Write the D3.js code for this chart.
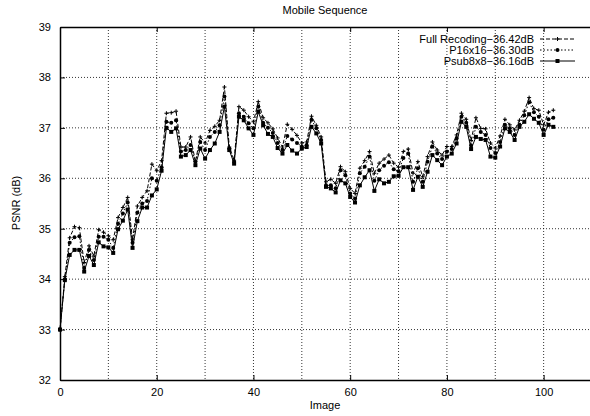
<!DOCTYPE html>
<html>
<head>
<meta charset="utf-8">
<script src="https://cdn.jsdelivr.net/npm/d3@7"></script>
<style>
  body { margin: 0; background: #fff; }
  svg { display: block; font-family: "Liberation Sans", Arial, sans-serif; }
  .grid line { stroke: #000; stroke-width: 0.8; stroke-dasharray: 1,2; }
  .tick-label { font-size: 11px; fill: #000; }
</style>
</head>
<body>
<svg id="chart"></svg>
<script>
// x values are image indices 0..102
const fullRecoding = [
  33.0, 34.05, 34.82, 35.04, 35.02, 34.33, 34.66, 34.46, 34.98, 34.93,
  34.86, 34.78, 35.22, 35.42, 35.62, 34.78, 35.45, 35.62, 35.75, 36.28,
  36.15, 36.35, 37.29, 37.3, 37.33, 36.62, 36.62, 36.82, 36.33, 36.82,
  36.7, 36.95, 37.03, 37.15, 37.81, 36.62, 36.36, 37.42, 37.35, 37.22,
  37.12, 37.52, 37.2, 37.1, 36.98, 36.8, 36.62, 37.07, 36.97, 36.85,
  36.7, 36.72, 37.23, 37.05, 36.82, 35.93, 35.98, 35.9, 36.23, 36.13,
  35.8, 35.7, 36.2, 36.35, 36.53, 36.1, 36.3, 36.38, 36.46, 36.3,
  36.22, 36.53, 36.58, 36.1, 36.33, 36.03, 36.43, 36.72, 36.56, 36.46,
  36.63, 36.63, 36.86, 37.29, 37.17, 36.75, 37.2, 36.99, 36.98, 36.7,
  36.6, 36.84, 37.17, 37.06, 36.96, 37.15, 37.33, 37.6, 37.38, 37.35,
  37.06, 37.31, 37.35
];
const p16x16 = [
  33.0, 34.0, 34.72, 34.83, 34.85, 34.22, 34.58, 34.38, 34.84, 34.84,
  34.78, 34.62, 35.1, 35.3, 35.52, 34.72, 35.32, 35.5, 35.55, 36.0,
  35.95, 36.22, 37.12, 37.1, 37.15, 36.53, 36.56, 36.66, 36.33, 36.72,
  36.56, 36.82, 36.92, 37.05, 37.62, 36.59, 36.33, 37.29, 37.22, 37.09,
  36.99, 37.42, 37.1, 37.0, 36.9, 36.7, 36.56, 36.84, 36.77, 36.7,
  36.63, 36.66, 37.16, 36.99, 36.76, 35.86, 35.86, 35.8, 36.16, 36.06,
  35.7, 35.6, 36.1, 36.23, 36.43, 35.95, 36.16, 36.25, 36.32, 36.18,
  36.14, 36.4, 36.49, 35.93, 36.2, 35.93, 36.33, 36.63, 36.49, 36.38,
  36.53, 36.58, 36.79, 37.22, 37.1, 36.65, 37.02, 36.92, 36.86, 36.6,
  36.5, 36.72, 37.06, 36.99, 36.86, 37.06, 37.25, 37.51, 37.31, 37.22,
  36.96, 37.17, 37.2
];
const psub8x8 = [
  33.0, 33.98, 34.48, 34.58, 34.58, 34.15, 34.46, 34.28, 34.73, 34.65,
  34.63, 34.52, 34.99, 35.16, 35.38, 34.62, 35.15, 35.42, 35.42, 35.66,
  35.78, 36.15, 37.0, 36.92, 36.99, 36.43, 36.46, 36.56, 36.26, 36.59,
  36.39, 36.56, 36.69, 36.92, 37.42, 36.56, 36.29, 37.22, 37.15, 36.99,
  36.86, 37.32, 37.05, 36.88, 36.82, 36.6, 36.49, 36.66, 36.55, 36.49,
  36.59, 36.62, 37.02, 36.89, 36.69, 35.83, 35.8, 35.72, 35.96, 35.9,
  35.63, 35.52, 35.86, 36.02, 36.16, 35.75, 35.98, 35.9, 35.93, 36.04,
  36.05, 36.22, 36.22, 35.77, 36.03, 35.83, 36.13, 36.46, 36.36, 36.26,
  36.43, 36.49, 36.69, 37.12, 37.02, 36.58, 36.82, 36.78, 36.76, 36.43,
  36.41, 36.63, 36.99, 36.92, 36.76, 37.02, 37.12, 37.27, 37.18, 37.1,
  36.86, 37.06, 37.02
];
const seriesNames = ["Full Recoding\u221236.42dB", "P16x16\u221236.30dB", "Psub8x8\u221236.16dB"];
const xTicks = [0, 20, 40, 60, 80, 100];
const xGrid = [10, 20, 30, 40, 50, 60, 70, 80, 90, 100];
const yTicks = [32, 33, 34, 35, 36, 37, 38, 39];

class PsnrChart {
  constructor(_config, _data) {
    this.config = {
      parentElement: _config.parentElement,
      containerWidth: _config.containerWidth || 590,
      containerHeight: _config.containerHeight || 416,
      margin: _config.margin || { top: 27, right: -2, bottom: 36, left: 60 }
    };
    this.data = _data;
    this.initVis();
  }

  initVis() {
    let vis = this;
    vis.width = vis.config.containerWidth - vis.config.margin.left - vis.config.margin.right;
    vis.height = vis.config.containerHeight - vis.config.margin.top - vis.config.margin.bottom;

    vis.xScale = d3.scaleLinear().domain([0, 110]).range([0, vis.width]);
    vis.yScale = d3.scaleLinear().domain([32, 39]).range([vis.height, 0]);

    vis.svg = d3.select(vis.config.parentElement)
      .attr("width", vis.config.containerWidth)
      .attr("height", vis.config.containerHeight);

    vis.chart = vis.svg.append("g")
      .attr("transform", `translate(${vis.config.margin.left},${vis.config.margin.top})`);

    // dotted grid
    const grid = vis.chart.append("g").attr("class", "grid");
    grid.selectAll(".vgrid").data(xGrid).join("line")
      .attr("x1", d => vis.xScale(d)).attr("x2", d => vis.xScale(d))
      .attr("y1", 0).attr("y2", vis.height);
    grid.selectAll(".hgrid").data(yTicks.slice(1, -1)).join("line")
      .attr("x1", 0).attr("x2", vis.width)
      .attr("y1", d => vis.yScale(d)).attr("y2", d => vis.yScale(d));

    // axes, ticks drawn inward like gnuplot
    vis.xAxis = d3.axisBottom(vis.xScale).tickValues(xTicks).tickSizeInner(-5).tickSizeOuter(0).tickPadding(8);
    vis.xAxisTop = d3.axisTop(vis.xScale).tickValues(xTicks).tickSizeInner(-5).tickSizeOuter(0).tickFormat("");
    vis.yAxis = d3.axisLeft(vis.yScale).tickValues(yTicks).tickFormat(d3.format("d"))
      .tickSizeInner(-5).tickSizeOuter(0).tickPadding(9);

    vis.xAxisGroup = vis.chart.append("g").attr("transform", `translate(0,${vis.height})`).call(vis.xAxis);
    vis.xAxisTopGroup = vis.chart.append("g").call(vis.xAxisTop);
    vis.yAxisGroup = vis.chart.append("g").call(vis.yAxis);
    [vis.xAxisGroup, vis.xAxisTopGroup, vis.yAxisGroup].forEach(g => {
      g.select(".domain").attr("stroke", "#000").attr("stroke-width", 1.5);
      g.selectAll(".tick line").attr("stroke", "#000").attr("stroke-width", 1);
      g.selectAll(".tick text").attr("class", "tick-label").attr("font-family", null).attr("font-size", null);
    });

    vis.svg.append("text")
      .attr("x", 325).attr("y", 14)
      .attr("text-anchor", "middle").attr("font-size", "11px")
      .text("Mobile Sequence");

    vis.svg.append("text")
      .attr("x", 325).attr("y", 409)
      .attr("text-anchor", "middle").attr("font-size", "11px")
      .text("Image");

    vis.svg.append("text")
      .attr("transform", "translate(20,203) rotate(-90)")
      .attr("text-anchor", "middle").attr("font-size", "11px")
      .text("PSNR (dB)");
  }

  renderVis() {
    let vis = this;
    const styles = [
      { dash: "4,2", marker: "plus" },
      { dash: "1.5,2", marker: "circle" },
      { dash: null, marker: "square" }
    ];

    const line = d3.line()
      .x((d, i) => vis.xScale(i))
      .y(d => vis.yScale(d));

    const drawMarker = (sel, type) => {
      if (type === "plus") {
        sel.append("path").attr("d", "M-2,0H2M0,-2V2").attr("stroke", "#000").attr("stroke-width", 1);
      } else if (type === "circle") {
        sel.append("circle").attr("r", 2).attr("fill", "#000");
      } else {
        sel.append("rect").attr("x", -2).attr("y", -2).attr("width", 4).attr("height", 4).attr("fill", "#000");
      }
    };

    vis.data.forEach((series, k) => {
      const st = styles[k];
      const g = vis.chart.append("g");
      g.append("path")
        .datum(series)
        .attr("fill", "none")
        .attr("stroke", "#000")
        .attr("stroke-width", 1)
        .attr("stroke-dasharray", st.dash)
        .attr("d", line);
      g.selectAll(".pt").data(series).join("g")
        .attr("transform", (d, i) => `translate(${vis.xScale(i)},${vis.yScale(d)})`)
        .each(function() { drawMarker(d3.select(this), st.marker); });

      // legend entry
      const ly = 39 + k * 11 - vis.config.margin.top;
      vis.chart.append("text")
        .attr("x", 474).attr("y", ly + 4)
        .attr("text-anchor", "end").attr("font-size", "11px")
        .text(seriesNames[k]);
      vis.chart.append("line")
        .attr("x1", 480).attr("x2", 515).attr("y1", ly).attr("y2", ly)
        .attr("stroke", "#000").attr("stroke-width", 1)
        .attr("stroke-dasharray", st.dash);
      drawMarker(vis.chart.append("g").attr("transform", `translate(497.5,${ly})`), st.marker);
    });
  }
}

const chart = new PsnrChart({ parentElement: "#chart" }, [fullRecoding, p16x16, psub8x8]);
chart.renderVis();
</script>
</body>
</html>
